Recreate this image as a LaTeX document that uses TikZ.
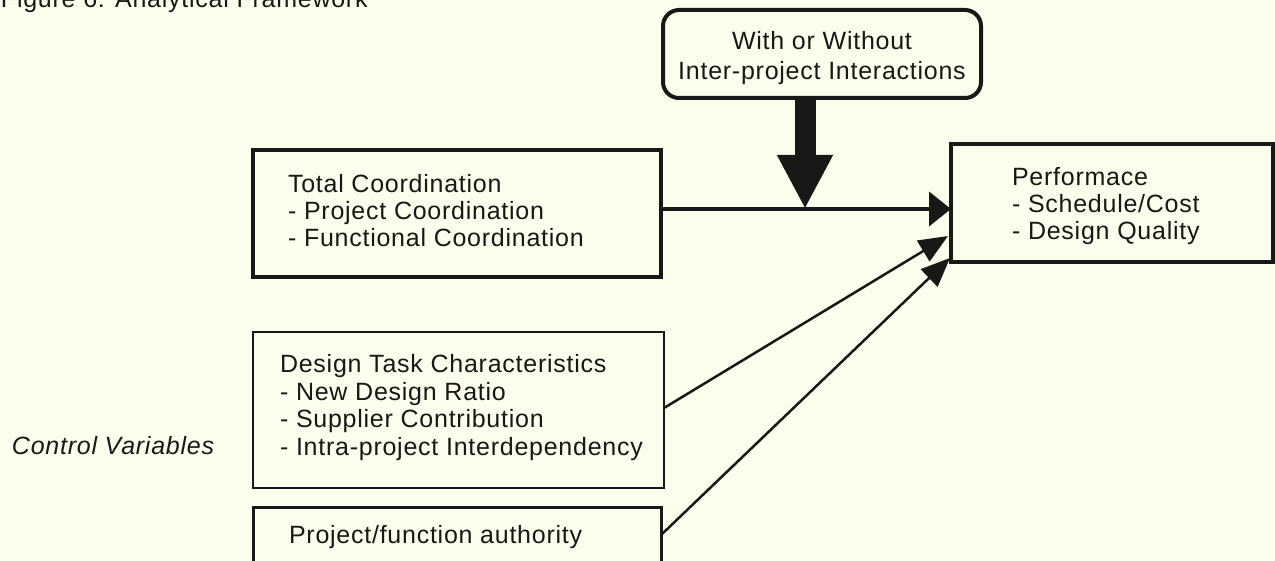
\documentclass[tikz,border=0pt]{standalone}
\usepackage{fontspec}
\setmainfont{Liberation Sans}[LetterSpace=3]
\usetikzlibrary{arrows.meta,calc}
\definecolor{paper}{RGB}{253,253,238}
\definecolor{ink}{RGB}{24,24,22}
\begin{document}
\begin{tikzpicture}[x=1pt,y=-1pt,
  font=\fontsize{25}{27}\selectfont,
  box/.style={draw=ink, rectangle, inner sep=0pt, outer sep=0pt},
  lbl/.style={anchor=base west, inner sep=0pt, outer sep=0pt, text=ink},
  clbl/.style={anchor=base, inner sep=0pt, outer sep=0pt, text=ink},
  conn/.style={draw=ink, line width=2.5pt, -{Triangle[length=29pt,width=24pt]}},
]
\useasboundingbox (0,0) rectangle (1275,561);
\fill[paper] (0,0) rectangle (1275,561);

% title (cut at the top edge, as in the reference)
\node[lbl] (title) at (1,8) {Figure 6: Analytical Framework};

% top rounded box
\node[box, line width=4pt, rounded corners=16pt, minimum width=318pt, minimum height=88pt] (ib) at (822,54) {};
\node[clbl] (ib1) at (822,50) {With or Without};
\node[clbl] (ib2) at (822,80) {Inter-project Interactions};

% total coordination
\node[box, line width=4pt, minimum width=408pt, minimum height=127pt] (tc) at (457,213.5) {};
\node[lbl] (tc1) at (288,193) {Total Coordination};
\node[lbl] (tc2) at (288,220) {- Project Coordination};
\node[lbl] (tc3) at (288,247) {- Functional Coordination};

% design task
\node[box, line width=2.5pt, minimum width=411pt, minimum height=156pt] (dt) at (458.5,410) {};
\node[lbl] (dt1) at (280,373) {Design Task Characteristics};
\node[lbl] (dt2) at (280,400) {- New Design Ratio};
\node[lbl] (dt3) at (280,427) {- Supplier Contribution};
\node[lbl] (dt4) at (280,455) {- Intra-project Interdependency};

% project/function authority
\node[box, line width=3pt, minimum width=408pt, minimum height=93pt] (pf) at (457,553.5) {};
\node[lbl] (pf1) at (289,543) {Project/function authority};

% performance
\node[box, line width=4pt, minimum width=322pt, minimum height=118pt] (perf) at (1112,203) {};
\node[lbl] (pe1) at (1012,186) {Performace};
\node[lbl] (pe2) at (1012,213) {- Schedule/Cost};
\node[lbl] (pe3) at (1012,240) {- Design Quality};

% control variables
\node[lbl, font=\fontsize{25}{27}\selectfont\itshape] (cv) at (12,454) {Control Variables};

% connectors
\coordinate (merge) at (805,209);
\draw[draw=ink, line width=4pt, -{Triangle[length=22pt,width=34pt]}] (tc.east |- merge) -- (perf.west |- merge);
\draw[draw=ink, line width=21pt, -{Triangle[length=54pt,width=52pt]}] (ib.south -| merge) -- (merge);
\draw[conn] ([yshift=2pt]dt.east) -- ($(perf.south west)!0.22!(perf.north west)+(-3,0)$);
\draw[conn] ([yshift=-28pt]pf.north east) -- ($(perf.south west)+(-1,-4)$);
\end{tikzpicture}
\end{document}
